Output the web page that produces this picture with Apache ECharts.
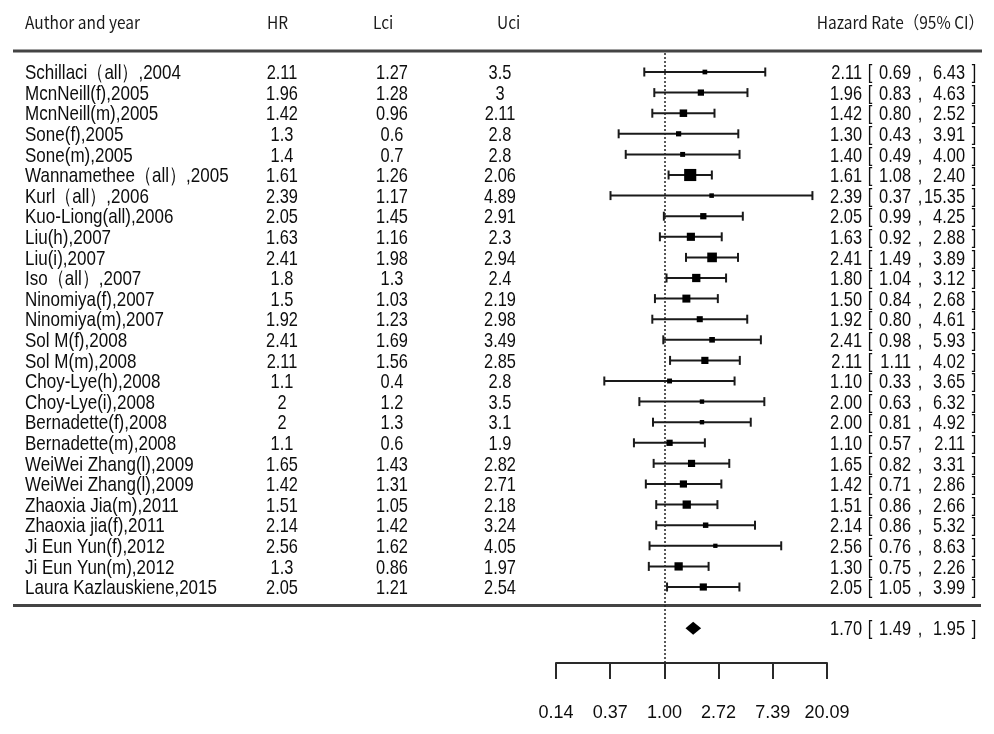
<!DOCTYPE html>
<html>
<head>
<meta charset="utf-8">
<script src="https://cdn.jsdelivr.net/npm/echarts@6/dist/echarts.min.js"></script>
<style>
html,body{margin:0;padding:0;background:#fff;}
#chart{width:994px;height:734px;}
</style>
</head>
<body>
<div id="chart"></div>
<script>
// ---------------- data ----------------
const authors = ['Schillaci（all）,2004','McnNeill(f),2005','McnNeill(m),2005','Sone(f),2005','Sone(m),2005',
  'Wannamethee（all）,2005','Kurl（all）,2006','Kuo-Liong(all),2006','Liu(h),2007','Liu(i),2007',
  'Iso（all）,2007','Ninomiya(f),2007','Ninomiya(m),2007','Sol M(f),2008','Sol M(m),2008',
  'Choy-Lye(h),2008','Choy-Lye(i),2008','Bernadette(f),2008','Bernadette(m),2008','WeiWei Zhang(l),2009',
  'WeiWei Zhang(l),2009','Zhaoxia Jia(m),2011','Zhaoxia jia(f),2011','Ji Eun Yun(f),2012','Ji Eun Yun(m),2012',
  'Laura Kazlauskiene,2015'];
const hrCol  = [2.11,1.96,1.42,1.3,1.4,1.61,2.39,2.05,1.63,2.41,1.8,1.5,1.92,2.41,2.11,1.1,2,2,1.1,1.65,1.42,1.51,2.14,2.56,1.3,2.05];
const lciCol = [1.27,1.28,0.96,0.6,0.7,1.26,1.17,1.45,1.16,1.98,1.3,1.03,1.23,1.69,1.56,0.4,1.2,1.3,0.6,1.43,1.31,1.05,1.42,1.62,0.86,1.21];
const uciCol = [3.5,3,2.11,2.8,2.8,2.06,4.89,2.91,2.3,2.94,2.4,2.19,2.98,3.49,2.85,2.8,3.5,3.1,1.9,2.82,2.71,2.18,3.24,4.05,1.97,2.54];
const ciLow  = [0.69,0.83,0.80,0.43,0.49,1.08,0.37,0.99,0.92,1.49,1.04,0.84,0.80,0.98,1.11,0.33,0.63,0.81,0.57,0.82,0.71,0.86,0.86,0.76,0.75,1.05];
const ciHigh = [6.43,4.63,2.52,3.91,4.00,2.40,15.35,4.25,2.88,3.89,3.12,2.68,4.61,5.93,4.02,3.65,6.32,4.92,2.11,3.31,2.86,2.66,5.32,8.63,2.26,3.99];
const weights = [1.8,3.2,4.6,2.2,2.0,12,1.7,3.2,5.4,7.6,5.6,5.2,3.0,2.6,4.2,2.0,1.6,1.6,3.2,4.2,4.2,5.6,2.4,1.5,5.6,4.2];
const pooled = {hr:1.70, lo:1.49, hi:1.95};
const tickLabels = ['0.14','0.37','1.00','2.72','7.39','20.09'];
const headers = {author:'Author and year', hr:'HR', lci:'Lci', uci:'Uci', ci:'Hazard Rate（95% CI）'};

// ---------------- layout ----------------
const NS = authors.length;
const NROW = NS + 2;            // studies + blank + pooled
const ROWH = 20.6;
const GL = 556, GR = 994 - 827;
const ROW0 = 72;
const FONT = "'Liberation Sans',Arial,sans-serif";
const HFONT = "'Noto Sans CJK SC','Noto Sans',sans-serif";
const TXT = '#0d0d0d';
const f2 = v => v.toFixed(2);
const idx = Array.from({length:NROW}, (_, i) => String(i));

function txt(x, y, s, align, sx){
  return {type:'text', x:x, y:y, scaleX:sx, silent:true,
    style:{text:s, x:0, y:0, textAlign:align, textVerticalAlign:'middle',
      font:'21px ' + FONT, fill:TXT}};
}
function renderTable(params, api){
  const r = api.value(0);
  const y = api.coord([1, r])[1] + 1.5;
  const kids = [];
  let h, lo, hi;
  if (r < NS){
    kids.push(txt(25, y, authors[r], 'left', 0.81));
    kids.push(txt(282, y, String(hrCol[r]), 'center', 0.78));
    kids.push(txt(392, y, String(lciCol[r]), 'center', 0.78));
    kids.push(txt(500, y, String(uciCol[r]), 'center', 0.78));
    h = hrCol[r]; lo = ciLow[r]; hi = ciHigh[r];
  } else {
    h = pooled.hr; lo = pooled.lo; hi = pooled.hi;
  }
  kids.push(txt(862, y, f2(h), 'right', 0.78));
  kids.push(txt(870, y, '[', 'center', 0.78));
  kids.push(txt(911, y, f2(lo), 'right', 0.78));
  kids.push(txt(920, y, ',', 'center', 0.78));
  kids.push(txt(965, y, f2(hi), 'right', 0.78));
  kids.push(txt(974, y, ']', 'center', 0.78));
  return {type:'group', children:kids};
}
const tableRows = authors.map((a,i)=>[i]).concat([[NS + 1]]);

const studyData = authors.map((a,i)=>[ciLow[i], ciHigh[i], hrCol[i], i, weights[i]]);
const pooledData = [[pooled.lo, pooled.hi, pooled.hr, NS + 1]];

function renderStudy(params, api){
  const r = api.value(3);
  const lo = api.coord([api.value(0), r]);
  const hi = api.coord([api.value(1), r]);
  const mid = api.coord([api.value(2), r]);
  const y = mid[1];
  const s = 3.5 * Math.sqrt(api.value(4));
  const st = {stroke:'#1a1a1a', lineWidth:2};
  return {type:'group', children:[
    {type:'line', shape:{x1:lo[0], y1:y, x2:hi[0], y2:y}, style:st},
    {type:'line', shape:{x1:lo[0], y1:y-4.5, x2:lo[0], y2:y+4.5}, style:st},
    {type:'line', shape:{x1:hi[0], y1:y-4.5, x2:hi[0], y2:y+4.5}, style:st},
    {type:'rect', shape:{x:mid[0]-s/2, y:y-s/2, width:s, height:s}, style:{fill:'#000'}}
  ]};
}
function renderPooled(params, api){
  const r = api.value(3);
  const lo = api.coord([api.value(0), r]);
  const hi = api.coord([api.value(1), r]);
  const mid = api.coord([api.value(2), r]);
  const y = mid[1];
  return {type:'polygon', shape:{points:[[lo[0]-0.5,y],[mid[0],y-6.5],[hi[0]+0.5,y],[mid[0],y+6.5]]}, style:{fill:'#000'}};
}

const logX = (gi, show) => ({
  type:'log', logBase:Math.E, gridIndex:gi, min:Math.exp(-2), max:Math.exp(3), show:show,
  splitLine:{show:false}, minorTick:{show:false},
  axisLine:{show:true, lineStyle:{color:'#2a2a2a', width:2}},
  axisTick:{show:true, inside:false, length:16, lineStyle:{color:'#2a2a2a', width:2}},
  axisLabel:{margin:41, color:TXT, fontFamily:'Liberation Sans', fontSize:18, showMinLabel:true, showMaxLabel:true,
    formatter:v=>tickLabels[Math.round(Math.log(v))+2]}
});

function hdr(x, s, align){
  return {type:'text', x:x, y:23, scaleX:0.91, silent:true,
    style:{text:s, x:0, y:0, textAlign:align, textVerticalAlign:'middle', font:'17px ' + HFONT, fill:'#1a1a1a'}};
}

const chart = echarts.init(document.getElementById('chart'), null, {renderer:'canvas'});
chart.setOption({
  animation:false,
  backgroundColor:'#fff',
  grid:[
    {left:GL, right:GR, top:ROW0 - ROWH/2, height:ROWH*NROW},
    {left:GL, right:GR, top:52, bottom:734-663}
  ],
  xAxis:[logX(0,false), logX(1,true)],
  yAxis:[
    {type:'category', gridIndex:0, data:idx, inverse:true, show:false},
    {type:'value', gridIndex:1, min:0, max:1, show:false}
  ],
  series:[
    {type:'custom', xAxisIndex:0, yAxisIndex:0, renderItem:renderStudy, data:studyData,
      encode:{x:[0,1,2], y:3}, z:3, clip:false},
    {type:'custom', xAxisIndex:0, yAxisIndex:0, renderItem:renderPooled, data:pooledData,
      encode:{x:[0,1,2], y:3}, z:3, clip:false},
    {type:'custom', xAxisIndex:0, yAxisIndex:0, renderItem:renderTable, data:tableRows,
      encode:{y:0}, z:4, clip:false, silent:true},
    {type:'line', xAxisIndex:1, yAxisIndex:1, data:[[1,0.5]], symbol:'none', lineStyle:{opacity:0},
      markLine:{silent:true, symbol:'none', label:{show:false},
        lineStyle:{color:'#222', width:1.5, type:[2,2]}, data:[{xAxis:1}]}, z:1}
  ],
  graphic:[
    hdr(25, headers.author, 'left'),
    hdr(267, headers.hr, 'left'),
    hdr(373, headers.lci, 'left'),
    hdr(497, headers.uci, 'left'),
    hdr(984, headers.ci, 'right'),
    {type:'line', shape:{x1:13, y1:51, x2:982, y2:51}, style:{stroke:'#444', lineWidth:3}},
    {type:'line', shape:{x1:13, y1:605.5, x2:981, y2:605.5}, style:{stroke:'#444', lineWidth:3}}
  ]
});
</script>
</body>
</html>
